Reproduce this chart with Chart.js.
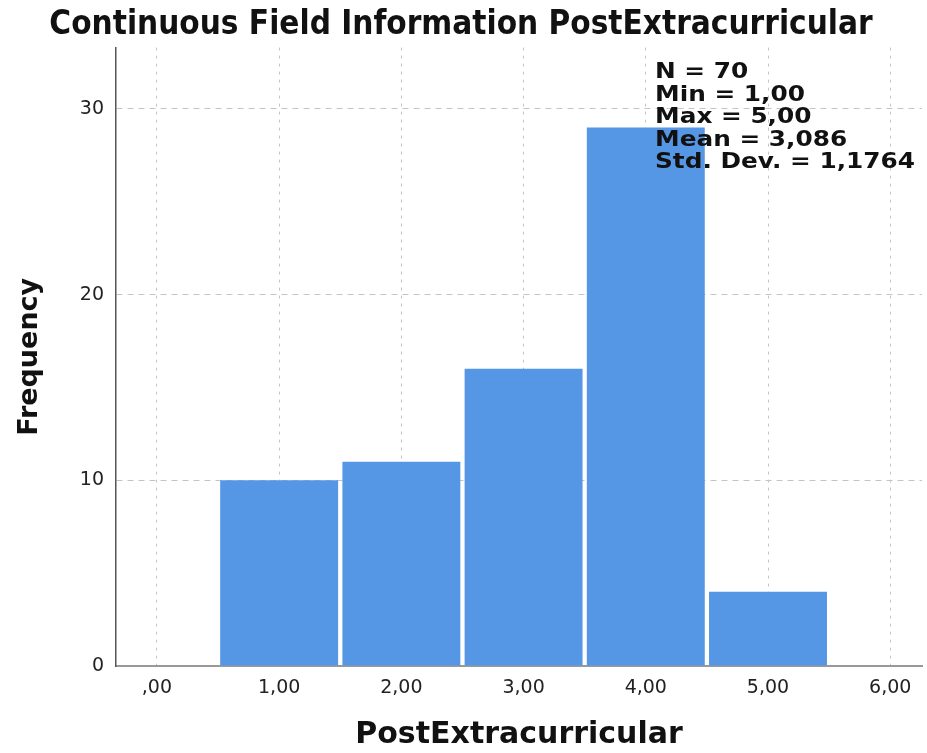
<!DOCTYPE html>
<html>
<head>
<meta charset="utf-8">
<script src="https://cdn.jsdelivr.net/npm/chart.js@4"></script>
<style>
  html, body { margin: 0; padding: 0; background: #fff; }
  #wrap { width: 927px; height: 753px; }
</style>
</head>
<body>
<div id="wrap"><canvas id="hist"></canvas></div>
<script>
// histogram bins (centres) and their counts
const binCenters = [1, 2, 3, 4, 5];
const frequencies = [10, 11, 16, 29, 4];
const xTickValues = [0, 1, 2, 3, 4, 5, 6];
const xTickLabels = [',00', '1,00', '2,00', '3,00', '4,00', '5,00', '6,00'];
const yTickValues = [0, 10, 20, 30];
const statsLines = ['N = 70', 'Min = 1,00', 'Max = 5,00', 'Mean = 3,086', 'Std. Dev. = 1,1764'];

const barColor = '#5596e5';
const gridColor = '#c4c4c4';

// stats box in the top right corner (spss font is wider, so stretch a bit)
const statsBox = {
  id: 'statsBox',
  afterDatasetsDraw(chart) {
    const ctx = chart.ctx;
    ctx.save();
    ctx.font = 'bold 21px "DejaVu Sans"';
    ctx.fillStyle = '#111';
    ctx.textBaseline = 'middle';
    ctx.translate(655, 0);
    ctx.scale(1.18, 1);
    statsLines.forEach((s, i) => ctx.fillText(s, 0, 73 + i * 22.5));
    ctx.restore();
  }
};

new Chart(document.getElementById('hist'), {
  type: 'bar',
  data: {
    datasets: [{
      data: binCenters.map((x, i) => ({ x: x, y: frequencies[i] })),
      backgroundColor: barColor,
      borderWidth: 0,
      barPercentage: 0.965,
      categoryPercentage: 1
    }]
  },
  options: {
    responsive: true,
    maintainAspectRatio: false,
    animation: false,
    layout: { padding: { right: 5, top: 0, bottom: 0, left: 0 } },
    plugins: {
      legend: { display: false },
      tooltip: { enabled: false },
      title: {
        display: true,
        text: 'Continuous Field Information PostExtracurricular',
        color: '#111',
        font: { family: '"DejaVu Sans Condensed", "DejaVu Sans"', size: 33, weight: 'bold', lineHeight: 1.2 },
        padding: { top: 6, bottom: 2 }
      }
    },
    scales: {
      x: {
        type: 'linear',
        min: -0.335,
        max: 6.26,
        offset: false,
        afterBuildTicks: s => { s.ticks = xTickValues.map(v => ({ value: v })); },
        afterFit: s => { s.height = 87; },
        ticks: {
          includeBounds: false,
          autoSkip: false,
          maxRotation: 0,
          padding: 11,
          color: '#222',
          font: { family: '"DejaVu Sans"', size: 19 },
          callback: v => xTickLabels[xTickValues.indexOf(v)]
        },
        grid: { offset: false, color: gridColor, lineWidth: 1, drawTicks: false },
        border: { display: true, color: '#999', width: 2, dash: [3, 5] },
        title: {
          display: true,
          text: 'PostExtracurricular',
          color: '#111',
          font: { family: '"DejaVu Sans"', size: 30, weight: 'bold' },
          padding: { top: 10, bottom: 0 }
        }
      },
      y: {
        min: 0,
        max: 33.3,
        afterBuildTicks: s => { s.ticks = yTickValues.map(v => ({ value: v })); },
        afterFit: s => { s.width = 116; },
        ticks: {
          includeBounds: false,
          padding: 12,
          color: '#222',
          font: { family: '"DejaVu Sans"', size: 19 }
        },
        grid: { color: gridColor, lineWidth: 1, drawTicks: false },
        border: { display: true, color: '#555', width: 1.5, dash: [6, 5] },
        title: {
          display: true,
          text: 'Frequency',
          color: '#111',
          font: { family: '"DejaVu Sans"', size: 27, weight: 'bold' },
          padding: { top: 14, bottom: 0 }
        }
      }
    }
  },
  plugins: [statsBox]
});
</script>
</body>
</html>
